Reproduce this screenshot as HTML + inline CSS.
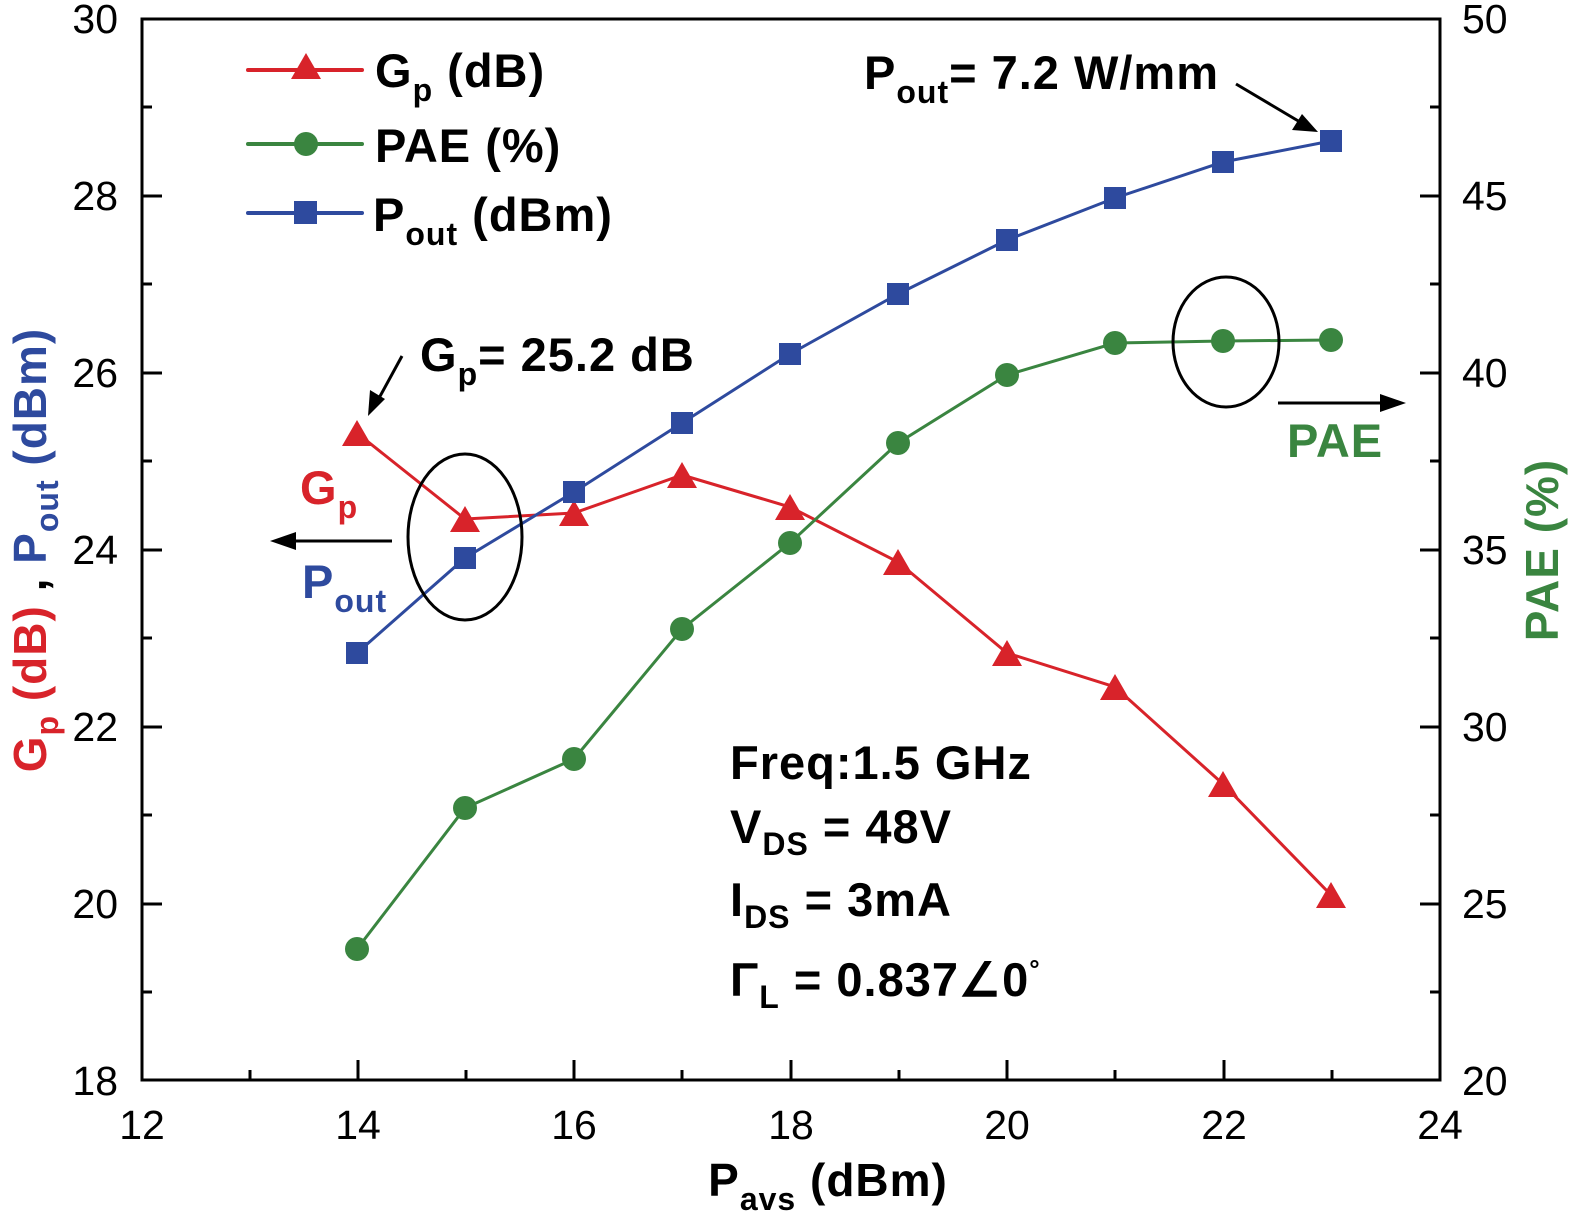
<!DOCTYPE html>
<html><head><meta charset="utf-8"><style>body{margin:0;background:#fff}svg{display:block}</style></head><body>
<svg width="1575" height="1213" viewBox="0 0 1575 1213" xmlns="http://www.w3.org/2000/svg" font-family="Liberation Sans, sans-serif">
<rect x="142" y="19" width="1298" height="1061" fill="none" stroke="#000" stroke-width="3"/>
<g stroke="#000" stroke-width="3">
<path d="M142 196h20M142 373h20M142 550h20M142 727h20M142 904h20M142 107h10M142 284h10M142 461h10M142 638h10M142 815h10M142 992h10"/>
<path d="M1440 196h-20M1440 373h-20M1440 550h-20M1440 727h-20M1440 904h-20M1440 107h-10M1440 284h-10M1440 461h-10M1440 638h-10M1440 815h-10M1440 992h-10"/>
<path d="M358 1080v-20M574 1080v-20M791 1080v-20M1007 1080v-20M1224 1080v-20M250 1080v-10M466 1080v-10M682 1080v-10M899 1080v-10M1115 1080v-10M1332 1080v-10"/>
</g>
<g font-size="41" text-anchor="end">
<text x="118" y="33">30</text><text x="118" y="210">28</text><text x="118" y="387">26</text><text x="118" y="564">24</text><text x="118" y="741">22</text><text x="118" y="918">20</text><text x="118" y="1095">18</text>
</g>
<g font-size="41" text-anchor="start">
<text x="1462" y="33">50</text><text x="1462" y="210">45</text><text x="1462" y="387">40</text><text x="1462" y="564">35</text><text x="1462" y="741">30</text><text x="1462" y="918">25</text><text x="1462" y="1095">20</text>
</g>
<g font-size="41" text-anchor="middle">
<text x="142" y="1139">12</text><text x="358" y="1139">14</text><text x="574" y="1139">16</text><text x="791" y="1139">18</text><text x="1007" y="1139">20</text><text x="1224" y="1139">22</text><text x="1440" y="1139">24</text>
</g>
<text x="828" y="1196" font-size="46" font-weight="bold" text-anchor="middle" letter-spacing="1">P<tspan font-size="32" dy="14">avs</tspan><tspan dy="-14"> (dBm)</tspan></text>
<text transform="translate(46,550) rotate(-90)" font-size="46" font-weight="bold" text-anchor="middle" letter-spacing="1"><tspan fill="#d8232a">G<tspan font-size="32" dy="12">p</tspan><tspan dy="-12"> (dB)</tspan></tspan><tspan fill="#000"> , </tspan><tspan fill="#2e4a9e">P<tspan font-size="32" dy="12">out</tspan><tspan dy="-12"> (dBm)</tspan></tspan></text>
<text transform="translate(1558,550) rotate(-90)" font-size="46" font-weight="bold" text-anchor="middle" fill="#3a8540" letter-spacing="1">PAE (%)</text>
<polyline fill="none" stroke="#d8232a" stroke-width="3" points="357,433 465,519 574,513 682,475 790,507 898,562 1007,653 1115,687 1223,784 1331,895"/>
<polyline fill="none" stroke="#2e4a9e" stroke-width="3" points="357,653 465,558 574,492 682,423 790,354 898,294 1007,240 1115,198 1223,162 1331,141"/>
<polyline fill="none" stroke="#3a8540" stroke-width="3" points="357,949 465,808 574,759 682,629 790,543 898,443 1007,375 1115,343 1223,341 1331,340"/>
<g fill="#d8232a">
<path d="M357 420l15 26h-30zM465 506l15 26h-30zM574 500l15 26h-30zM682 462l15 26h-30zM790 494l15 26h-30zM898 549l15 26h-30zM1007 640l15 26h-30zM1115 674l15 26h-30zM1223 771l15 26h-30zM1331 882l15 26h-30z"/>
</g>
<g fill="#2e4a9e">
<rect x="346" y="642" width="22" height="22"/><rect x="454" y="547" width="22" height="22"/><rect x="563" y="481" width="22" height="22"/><rect x="671" y="412" width="22" height="22"/><rect x="779" y="343" width="22" height="22"/><rect x="887" y="283" width="22" height="22"/><rect x="996" y="229" width="22" height="22"/><rect x="1104" y="187" width="22" height="22"/><rect x="1212" y="151" width="22" height="22"/><rect x="1320" y="130" width="22" height="22"/>
</g>
<g fill="#3a8540">
<circle cx="357" cy="949" r="12"/><circle cx="465" cy="808" r="12"/><circle cx="574" cy="759" r="12"/><circle cx="682" cy="629" r="12"/><circle cx="790" cy="543" r="12"/><circle cx="898" cy="443" r="12"/><circle cx="1007" cy="375" r="12"/><circle cx="1115" cy="343" r="12"/><circle cx="1223" cy="341" r="12"/><circle cx="1331" cy="340" r="12"/>
</g>
<line x1="248" y1="70" x2="362" y2="70" stroke="#d8232a" stroke-width="4" stroke-linecap="round"/><path d="M306 53l15 26h-30z" fill="#d8232a"/>
<line x1="248" y1="144" x2="362" y2="144" stroke="#3a8540" stroke-width="4" stroke-linecap="round"/><circle cx="306" cy="144" r="12" fill="#3a8540"/>
<line x1="248" y1="213" x2="362" y2="213" stroke="#2e4a9e" stroke-width="4" stroke-linecap="round"/><rect x="294" y="201" width="23" height="23" fill="#2e4a9e"/>
<g font-size="47" font-weight="bold" letter-spacing="1">
<text x="375" y="87">G<tspan font-size="32" dy="14">p</tspan><tspan dy="-14"> (dB)</tspan></text>
<text x="375" y="162">PAE (%)</text>
<text x="373" y="231">P<tspan font-size="32" dy="14">out</tspan><tspan dy="-14"> (dBm)</tspan></text>
<text x="864" y="89">P<tspan font-size="32" dy="14">out</tspan><tspan dy="-14">= 7.2 W/mm</tspan></text>
<text x="420" y="371">G<tspan font-size="32" dy="14">p</tspan><tspan dy="-14">= 25.2 dB</tspan></text>
<text x="730" y="779">Freq:1.5 GHz</text>
<text x="730" y="843">V<tspan font-size="32" dy="12">DS</tspan><tspan dy="-12"> = 48V</tspan></text>
<text x="730" y="916">I<tspan font-size="32" dy="12">DS</tspan><tspan dy="-12"> = 3mA</tspan></text>
<text x="730" y="996">Γ<tspan font-size="32" dy="12">L</tspan><tspan dy="-12"> = 0.837∠0</tspan><tspan font-size="26" dy="-18">°</tspan></text>
<text x="300" y="504" fill="#d8232a">G<tspan font-size="32" dy="14">p</tspan></text>
<text x="302" y="598" fill="#2e4a9e">P<tspan font-size="32" dy="14">out</tspan></text>
<text x="1287" y="457" fill="#3a8540">PAE</text>
</g>
<g stroke="#000" stroke-width="3" fill="none">
<ellipse cx="465" cy="537" rx="57" ry="83"/>
<ellipse cx="1226" cy="342" rx="53" ry="65"/>
<line x1="392" y1="541" x2="290" y2="541"/>
<line x1="1278" y1="403" x2="1385" y2="403"/>
<line x1="1236" y1="84" x2="1300" y2="122"/>
<line x1="402" y1="356" x2="378" y2="400"/>
</g>
<g fill="#000">
<path d="M270 541l26 -9v18z"/>
<path d="M1406 403l-26 -9v18z"/>
<path d="M1318 132l-26 -2 10 -16z"/>
<path d="M368 416l2 -26 15 9z"/>
</g>
</svg>
</body></html>
